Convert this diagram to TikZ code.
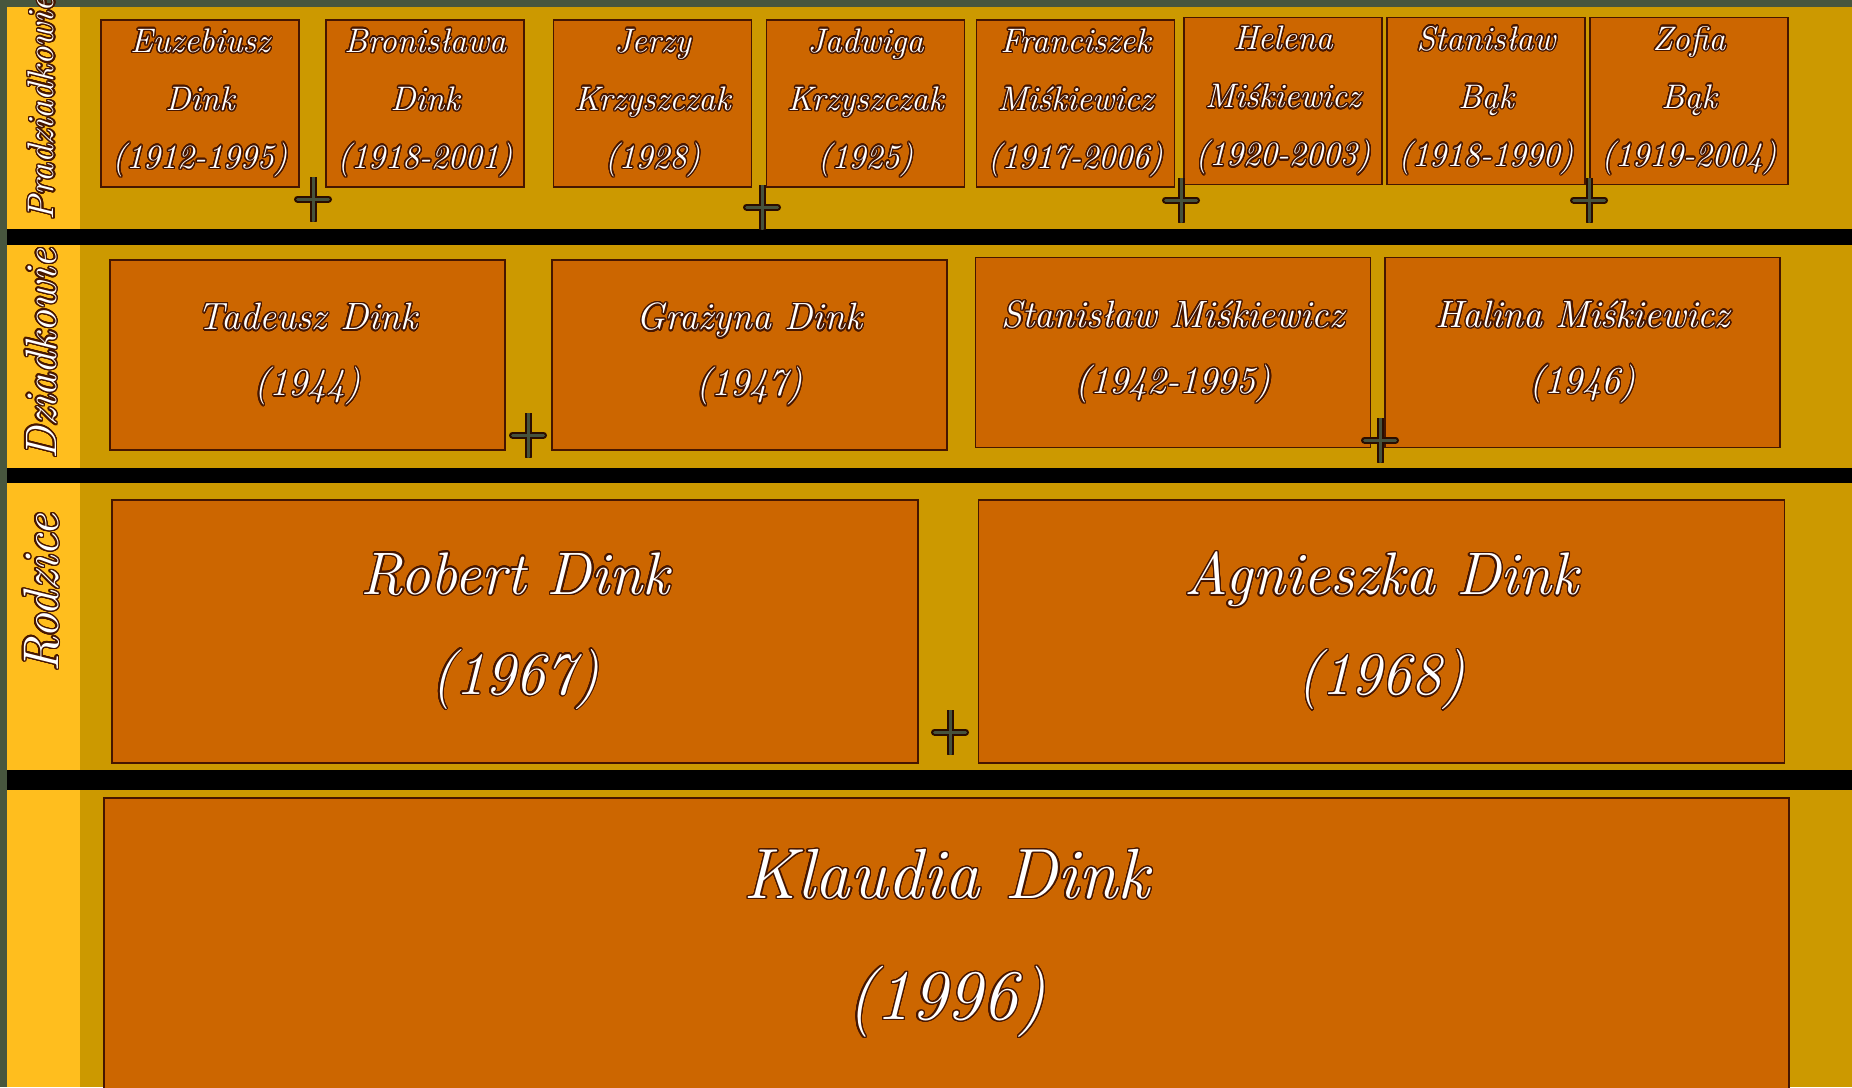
\documentclass[tikz,border=0pt]{standalone}
\usepackage{xcolor}
\usepackage{tikz}
\usepackage{contour}
\contourlength{1.4pt}
\contournumber{24}

\definecolor{ramka}{RGB}{72,86,62}
\definecolor{tlo}{RGB}{204,153,0}
\definecolor{pasek}{RGB}{255,190,30}
\definecolor{pudelko}{RGB}{204,102,0}
\definecolor{obrys}{RGB}{70,22,0}
\definecolor{krzyz}{RGB}{70,82,60}

\newcommand{\obw}[1]{\contour{obrys}{#1}}

\tikzset{
	osoba/.style={draw=obrys, line width=1.5pt, fill=pudelko, text=white, align=center, inner sep=0pt},
	pra/.style={osoba, minimum width=198pt, minimum height=167pt, font=\fontsize{34}{58}\selectfont\itshape},
	dziad/.style={osoba, minimum width=395pt, minimum height=190pt, font=\fontsize{38}{66}\selectfont\itshape},
	rodzic/.style={osoba, minimum width=806pt, minimum height=263pt, font=\fontsize{60}{100}\selectfont\itshape},
	dziecko/.style={osoba, minimum width=1685pt, minimum height=292pt, font=\fontsize{71}{121}\selectfont\itshape},
	etykieta/.style={rotate=90, inner sep=0pt, text=white, font=\fontsize{44}{44}\selectfont\itshape},
	plusik/.style={minimum width=38pt, minimum height=44pt, inner sep=0pt,
		path picture={
			\draw[obrys!60!black, line width=7pt, line cap=round, shorten <=3.5pt, shorten >=3.5pt]
				(path picture bounding box.north) -- (path picture bounding box.south)
				(path picture bounding box.west) -- (path picture bounding box.east);
			\draw[krzyz, line width=3pt, line cap=round, shorten <=3.5pt, shorten >=3.5pt]
				(path picture bounding box.north) -- (path picture bounding box.south)
				(path picture bounding box.west) -- (path picture bounding box.east);
		}}
}

\begin{document}
\begin{tikzpicture}[x=1pt, y=-1pt]
	\useasboundingbox (0,0) rectangle (1852,1087);
	\clip (0,0) rectangle (1852,1087);

	% tlo i pasy
	\fill[ramka] (0,0) rectangle (1852,1087);
	\fill[tlo] (7,7) rectangle (1852,1087);
	\fill[pasek] (7,7) rectangle (80,1087);
	\fill[black] (7,229) rectangle (1852,245);
	\fill[black] (7,468) rectangle (1852,483);
	\fill[black] (7,770) rectangle (1852,790);

	% pradziadkowie
	\node[pra] (euzebiusz) at (200,103.5) {\obw{Euzebiusz}\\ \obw{Dink}\\ \obw{(1912-1995)}};
	\node[pra] (bronislawa) at (425,103.5) {\obw{Bronisława}\\ \obw{Dink}\\ \obw{(1918-2001)}};
	\node[pra] (jerzy) at (652.5,103.5) {\obw{Jerzy}\\ \obw{Krzyszczak}\\ \obw{(1928)}};
	\node[pra] (jadwiga) at (865.5,103.5) {\obw{Jadwiga}\\ \obw{Krzyszczak}\\ \obw{(1925)}};
	\node[pra] (franciszek) at (1075.5,103.5) {\obw{Franciszek}\\ \obw{Miśkiewicz}\\ \obw{(1917-2006)}};
	\node[pra] (helena) at (1283,101) {\obw{Helena}\\ \obw{Miśkiewicz}\\ \obw{(1920-2003)}};
	\node[pra] (stanislawB) at (1486,101) {\obw{Stanisław}\\ \obw{Bąk}\\ \obw{(1918-1990)}};
	\node[pra] (zofia) at (1689,101) {\obw{Zofia}\\ \obw{Bąk}\\ \obw{(1919-2004)}};

	% dziadkowie
	\node[dziad] (tadeusz) at (307.5,355) {\obw{Tadeusz Dink}\\ \obw{(1944)}};
	\node[dziad] (grazyna) at (749.5,355) {\obw{Grażyna Dink}\\ \obw{(1947)}};
	\node[dziad] (stanislawM) at (1173,352.5) {\obw{Stanisław Miśkiewicz}\\ \obw{(1942-1995)}};
	\node[dziad] (halina) at (1582.5,352.5) {\obw{Halina Miśkiewicz}\\ \obw{(1946)}};

	% rodzice
	\node[rodzic] (robert) at (515,631.5) {\obw{Robert Dink}\\ \obw{(1967)}};
	\node[rodzic] (agnieszka) at (1381.5,631.5) {\obw{Agnieszka Dink}\\ \obw{(1968)}};

	% dziecko
	\node[dziecko] (klaudia) at (946.5,944) {\obw{Klaudia Dink}\\ \obw{(1996)}};

	% malzenstwa
	\node[plusik] (plus1) at (313,199) {};
	\node[plusik] (plus2) at (762,207) {};
	\node[plusik] (plus3) at (1181,200) {};
	\node[plusik] (plus4) at (1589,200) {};
	\node[plusik] (plus5) at (528,435) {};
	\node[plusik] (plus6) at (1380,440) {};
	\node[plusik] (plus7) at (950,732) {};

	% pokolenia
	\node[etykieta, font=\fontsize{37}{37}\selectfont\itshape] (lab1) at (42,108) {\obw{Pradziadkowie}};
	\node[etykieta] (lab2) at (42,354) {\obw{Dziadkowie}};
	\node[etykieta, font=\fontsize{50}{50}\selectfont\itshape] (lab3) at (42,593) {\obw{Rodzice}};
\end{tikzpicture}
\end{document}
